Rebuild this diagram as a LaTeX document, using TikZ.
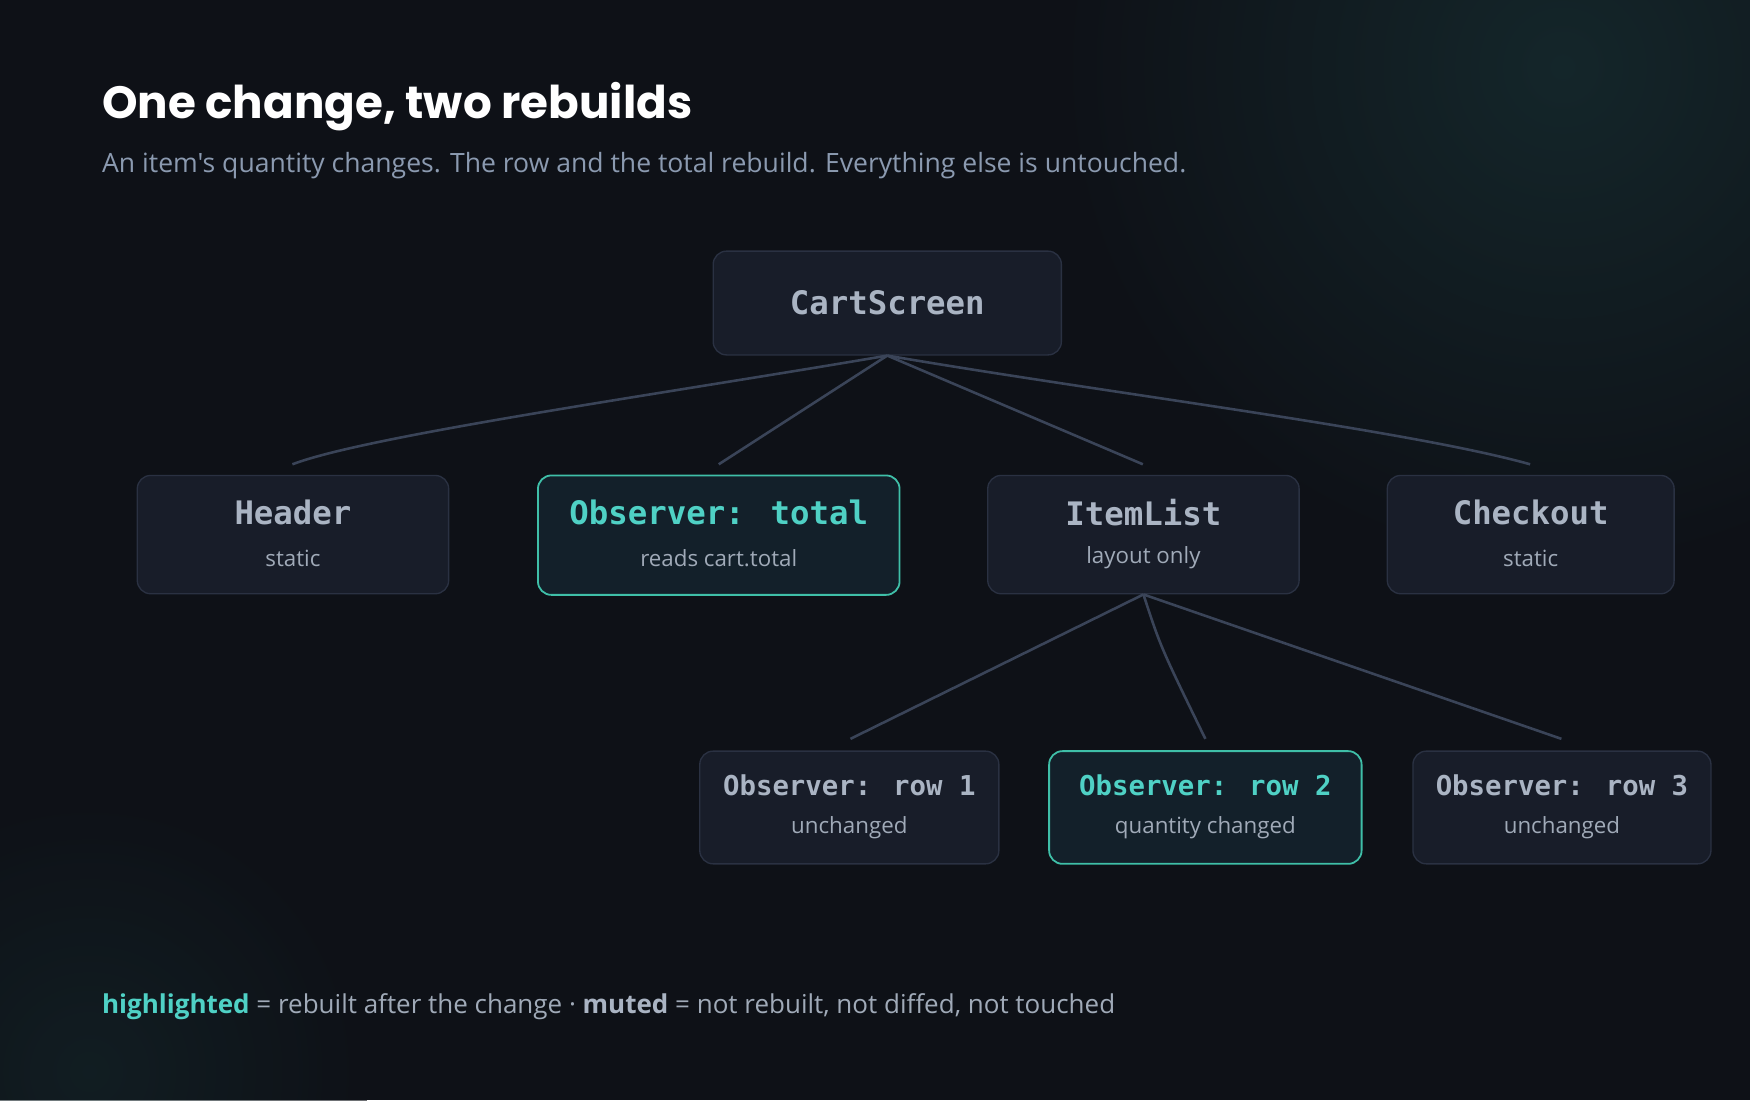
\documentclass[tikz,border=0pt]{standalone}
\usepackage{fontspec}
\setmainfont{Open Sans}[Ligatures=TeXOff]
\newfontfamily\ttl{Poppins}
\newfontfamily\mon{DejaVu Sans Mono}
\definecolor{bg}{HTML}{0E1117}
\definecolor{glow}{HTML}{14262A}
\definecolor{edge}{HTML}{3A4458}
\definecolor{boxf}{HTML}{181D29}
\definecolor{boxd}{HTML}{2A3142}
\definecolor{hif}{HTML}{13202A}
\definecolor{hid}{HTML}{3FBFA8}
\definecolor{hit}{HTML}{4FD1C5}
\definecolor{mt}{HTML}{AAB4C3}
\definecolor{st}{HTML}{A0AAB8}
\definecolor{sub}{HTML}{8B9AB0}
\begin{document}
\begin{tikzpicture}[x=1pt,y=-1pt,
 box/.style={draw=boxd,line width=1.2pt,fill=boxf,rounded corners=12pt},
 hbox/.style={draw=hid,line width=1.6pt,fill=hif,rounded corners=12pt},
 t/.style={font=\mon\bfseries\fontsize{29}{30}\selectfont,text=mt},
 ht/.style={font=\mon\bfseries\fontsize{29}{30}\selectfont,text=hit},
 s/.style={font=\fontsize{20}{22}\selectfont,text=st},
 e/.style={draw=edge,line width=2.3pt}]
\useasboundingbox (0,0) rectangle (1568,986);
\begin{scope}
\clip (0,0) rectangle (1568,986);
\fill[bg] (0,0) rectangle (1568,986);
\shade[inner color=glow,outer color=bg] (1400,60) circle (450);
\shade[inner color=glow,outer color=bg,opacity=0.6] (80,960) circle (250);
\end{scope}
\node[anchor=base west,font=\ttl\bfseries\fontsize{40.5}{44}\selectfont,text=white] (title) at (88,106) {One change, two rebuilds};
\node[anchor=base west,font=\fontsize{23.8}{26}\selectfont,text=sub] (subt) at (88,155) {An item's quantity changes. The row and the total rebuild. Everything else is untouched.};
% boxes
\node[box,minimum width=312pt,minimum height=93pt] (cs) at (795,271.5) {};
\node[t] at (795,271) {CartScreen};
\node[box,minimum width=279pt,minimum height=106pt] (hd) at (262.5,479) {};
\node[hbox,minimum width=324pt,minimum height=107pt] (ot) at (644,479.5) {};
\node[box,minimum width=279pt,minimum height=106pt] (il) at (1024.5,479) {};
\node[box,minimum width=257pt,minimum height=106pt] (co) at (1371.5,479) {};
\node[t] at (262.5,459) {Header};
\node[s] at (262.5,500) {static};
\node[ht] at (644,459) {Observer: total};
\node[s] at (644,500) {reads cart.total};
\node[t] at (1024.5,459) {ItemList};
\node[s] at (1024.5,500) {layout only};
\node[t] at (1371.5,459) {Checkout};
\node[s] at (1371.5,500) {static};
\node[box,minimum width=268pt,minimum height=101pt] (r1) at (761,723.5) {};
\node[hbox,minimum width=280pt,minimum height=101pt] (r2) at (1080,723.5) {};
\node[box,minimum width=267pt,minimum height=101pt] (r3) at (1399.5,723.5) {};
\node[font=\mon\bfseries\fontsize{24.5}{26}\selectfont,text=mt] at (761,704) {Observer: row 1};
\node[s] at (761,742) {unchanged};
\node[font=\mon\bfseries\fontsize{24.5}{26}\selectfont,text=hit] at (1080,704) {Observer: row 2};
\node[s] at (1080,742) {quantity changed};
\node[font=\mon\bfseries\fontsize{24.5}{26}\selectfont,text=mt] at (1399.5,704) {Observer: row 3};
\node[s] at (1399.5,742) {unchanged};
% edges
\coordinate (a1) at (262,416); \coordinate (a2) at (644,416);
\coordinate (a3) at (1024,416); \coordinate (a4) at (1371,416);
\coordinate (b1) at (762,662); \coordinate (b2) at (1080,662); \coordinate (b3) at (1399,662);
\draw[e] (cs.south) .. controls (600,352) and (330,390) .. (a1);
\draw[e] (cs.south) -- (a2);
\draw[e] (cs.south) -- (a3);
\draw[e] (cs.south) .. controls (990,352) and (1260,385) .. (a4);
\draw[e] (il.south) -- (b1);
\draw[e] (il.south) .. controls (1040,580) .. (b2);
\draw[e] (il.south) -- (b3);
\node[anchor=base west,font=\fontsize{23.3}{26}\selectfont,text=st] (leg) at (88,908) {\textcolor{hit}{\bfseries highlighted} = rebuilt after the change · \textcolor{mt}{\bfseries muted} = not rebuilt, not diffed, not touched};
\end{tikzpicture}
\end{document}
